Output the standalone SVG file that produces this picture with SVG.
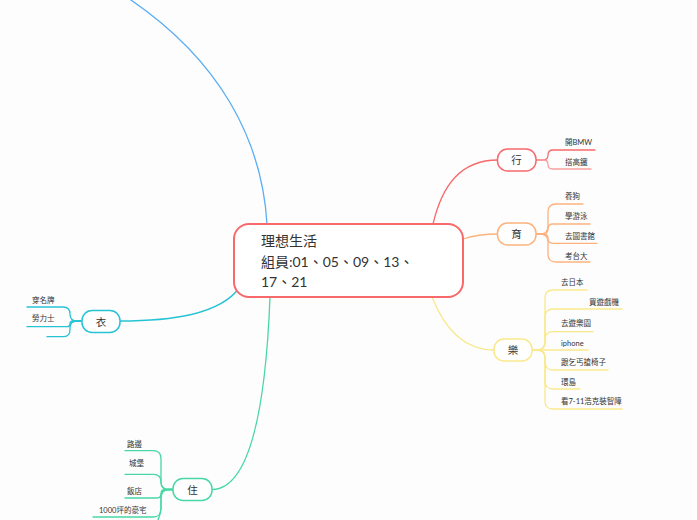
<svg xmlns="http://www.w3.org/2000/svg" width="697" height="520" viewBox="0 0 697 520">
<style>
.bg{fill:#fdfdfd}
.node{fill:#ffffff;stroke-width:1.5}
.ln{fill:none;stroke-width:1.3;stroke-linecap:round}
.t{font-family:Lato,"Noto Sans CJK TC",sans-serif;fill:#333333}
.main{font-size:14px}
.nt{font-size:10.5px;text-anchor:middle}
.ct{font-size:7.5px}
.red{stroke:#f7696b}
.org{stroke:#fdb27e}
.yel{stroke:#f9e98c}
.cya{stroke:#26c3d5}
.grn{stroke:#47d8a4}
.blu{stroke:#5aaef5}
</style>
<rect class="bg" x="0" y="0" width="697" height="520"/>
<g id="connectors">
  <path class="ln blu" d="M 267 224 C 262 140 220 60 128 -2"/>
  <path class="ln red" d="M 433 224 C 442 186 460 160 498 160"/>
  <path class="ln org" d="M 463 239 C 475 235 485 234 498 234"/>
  <path class="ln yel" d="M 432 297 C 445 330 465 350 494 350"/>
  <path class="ln cya" d="M 240 287 C 220 315 170 321 120 321"/>
  <path class="ln grn" d="M 270 297 C 266 400 252 489 212 489.5"/>
  <!-- 行 children -->
  <path class="ln red" d="M 536 160 H 543 Q 548 160 548 155 Q 548 150 553 150 H 595"/>
  <path class="ln red" d="M 536 160 H 543.5 Q 548 160 548 164.5 Q 548 169 552.5 169 H 591" style="stroke:#f9a0a0"/>
  <!-- 育 children -->
  <path class="ln org" d="M 536 234 H 540 Q 548 234 548 226 V 212 Q 548 204 556 204 H 583"/>
  <path class="ln org" d="M 536 234 H 543 Q 548 234 548 229 Q 548 224 553 224 H 590"/>
  <path class="ln org" d="M 536 234 H 543.4 Q 548 234 548 238.6 Q 548 243.3 552.6 243.3 H 597"/>
  <path class="ln org" d="M 536 234 H 540 Q 548 234 548 242 V 254 Q 548 262 556 262 H 590"/>
  <!-- 樂 children -->
  <path class="ln yel" d="M 532 350 H 537 Q 545 350 545 342 V 298 Q 545 290 553 290 H 587"/>
  <path class="ln yel" d="M 532 350 H 537 Q 545 350 545 342 V 317 Q 545 309 553 309 H 622"/>
  <path class="ln yel" d="M 532 350 H 537 Q 545 350 545 342 V 339.7 Q 545 331.7 553 331.7 H 593"/>
  <path class="ln yel" d="M 532 350 H 588"/>
  <path class="ln yel" d="M 532 350 H 537 Q 545 350 545 358 V 362 Q 545 370 553 370 H 608"/>
  <path class="ln yel" d="M 532 350 H 537 Q 545 350 545 358 V 381 Q 545 389 553 389 H 580"/>
  <path class="ln yel" d="M 532 350 H 537 Q 545 350 545 358 V 401 Q 545 409 553 409 H 622"/>
  <!-- 衣 children -->
  <path class="ln cya" d="M 82 321 H 77 Q 70 321 70 314 Q 70 307 63 307 H 27"/>
  <path class="ln cya" d="M 82 321 H 72.9 Q 70 321 70 323.9 Q 70 326.7 67.1 326.7 H 27"/>
  <path class="ln cya" d="M 82 321 H 77 Q 70 321 70 328 V 329.7 Q 70 336.7 63 336.7 H 47"/>
  <!-- 住 children -->
  <path class="ln grn" d="M 173 489.5 H 169 Q 161 489.5 161 481.5 V 458.7 Q 161 450.7 153 450.7 H 125"/>
  <path class="ln grn" d="M 173 489.5 H 168.4 Q 161 489.5 161 481.9 Q 161 474.3 153.4 474.3 H 125"/>
  <path class="ln grn" d="M 173 489.5 H 165.3 Q 161 489.5 161 493.8 Q 161 498 156.8 498 H 125"/>
  <path class="ln grn" d="M 173 489.5 H 169 Q 161 489.5 161 497.5 V 509 Q 161 517 153 517 H 93"/>
  <path class="ln grn" d="M 173 489.5 H 169 Q 161 489.5 161 497.5 V 508 Q 160 522 150 530"/>
</g>
<g id="central">
  <rect x="234" y="224" width="229" height="73" rx="15" fill="#ffffff" stroke="#f7696b" stroke-width="2"/>
  <text class="t main" x="261" y="246">理想生活</text>
  <text class="t main" x="261" y="267">組員:01、05、09、13、</text>
  <text class="t main" x="261" y="287">17、21</text>
</g>
<g id="node-xing">
  <rect class="node red" x="497.5" y="149" width="38.5" height="22" rx="10"/>
  <text class="t nt" x="516.5" y="164">行</text>
  <text class="t ct" x="565" y="145">開BMW</text>
  <text class="t ct" x="565" y="164.5">搭高鐵</text>
</g>
<g id="node-yu">
  <rect class="node org" x="497.5" y="223" width="38.5" height="22" rx="10"/>
  <text class="t nt" x="516.5" y="238">育</text>
  <text class="t ct" x="565" y="198.5">養狗</text>
  <text class="t ct" x="565" y="218.5">學游泳</text>
  <text class="t ct" x="565" y="238.8">去圖書館</text>
  <text class="t ct" x="565" y="258.8">考台大</text>
</g>
<g id="node-le">
  <rect class="node yel" x="494" y="339" width="38" height="22" rx="10"/>
  <text class="t nt" x="513" y="354">樂</text>
  <text class="t ct" x="561" y="284.7">去日本</text>
  <text class="t ct" x="589" y="304.7">買遊戲機</text>
  <text class="t ct" x="561" y="325.7">去遊樂園</text>
  <text class="t ct" x="561" y="345.7">iphone</text>
  <text class="t ct" x="561" y="364.7">跟乞丐搶椅子</text>
  <text class="t ct" x="561" y="384.7">環島</text>
  <text class="t ct" x="561" y="403.7">看7-11浩克裝智障</text>
</g>
<g id="node-yi">
  <rect class="node cya" x="82" y="310.5" width="38" height="22" rx="10"/>
  <text class="t nt" x="101" y="325.5">衣</text>
  <text class="t ct" x="32" y="302.5">穿名牌</text>
  <text class="t ct" x="32" y="321">勞力士</text>
</g>
<g id="node-zhu">
  <rect class="node grn" x="173" y="478.5" width="39" height="22" rx="10"/>
  <text class="t nt" x="192.5" y="493.5">住</text>
  <text class="t ct" x="127" y="447">路邊</text>
  <text class="t ct" x="129" y="465.5">城堡</text>
  <text class="t ct" x="127" y="494">飯店</text>
  <text class="t ct" x="99" y="513">1000坪的豪宅</text>
</g>
</svg>
